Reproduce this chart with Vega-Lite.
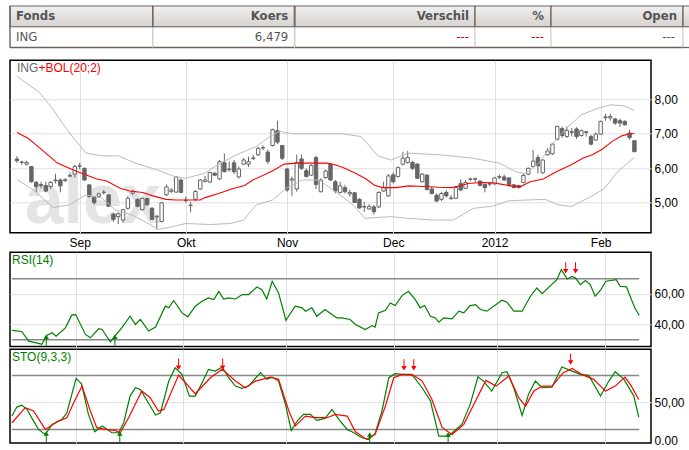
{
  "$schema": "https://vega.github.io/schema/vega-lite/v6.json",
  "padding": {"left": 8, "top": 5, "right": 0, "bottom": 0},
  "background": "#ffffff",
  "config": {
    "view": {"stroke": null},
    "text": {"font": "Liberation Sans"},
    "axis": {"labelFont": "Liberation Sans", "labelFontSize": 12, "labelColor": "#000000", "labelFlush": false, "domain": false, "ticks": false, "tickSize": 0, "gridColor": "#e0e0e0", "gridWidth": 1}
  },
  "datasets": {
    "table": [
      {"col": "Fonds", "value": "ING"},
      {"col": "Koers", "value": "6,479"},
      {"col": "Verschil", "value": "---"},
      {"col": "%", "value": "---"},
      {"col": "Open", "value": "---"},
      {"col": "", "value": ""}
    ],
    "candles": [
      {"i":0,"o":6.27,"h":6.35,"l":6.16,"c":6.22},{"i":1,"o":6.17,"h":6.22,"l":6.1,"c":6.18},{"i":2,"o":6.12,"h":6.22,"l":6.08,"c":6.17},
      {"i":3,"o":6.05,"h":6.06,"l":5.58,"c":5.61},{"i":4,"o":5.59,"h":5.63,"l":5.3,"c":5.47},{"i":5,"o":5.5,"h":5.61,"l":5.42,"c":5.53},
      {"i":6,"o":5.5,"h":5.61,"l":5.31,"c":5.34},{"i":7,"o":5.47,"h":5.63,"l":5.4,"c":5.59},{"i":8,"o":5.64,"h":5.84,"l":5.56,"c":5.66},
      {"i":9,"o":5.66,"h":5.71,"l":5.3,"c":5.49},{"i":10,"o":5.64,"h":5.72,"l":5.6,"c":5.67},{"i":11,"o":5.77,"h":5.85,"l":5.75,"c":5.79},
      {"i":12,"o":5.83,"h":6.1,"l":5.73,"c":6.05},{"i":13,"o":6.06,"h":6.15,"l":5.97,"c":6.07},{"i":14,"o":6.0,"h":6.02,"l":5.63,"c":5.66},
      {"i":15,"o":5.52,"h":5.53,"l":5.15,"c":5.18},{"i":16,"o":5.17,"h":5.2,"l":4.95,"c":5.0},{"i":17,"o":5.19,"h":5.3,"l":5.15,"c":5.26},
      {"i":18,"o":5.29,"h":5.37,"l":5.24,"c":5.31},{"i":19,"o":5.23,"h":5.25,"l":4.88,"c":4.9},{"i":20,"o":4.67,"h":4.72,"l":4.45,"c":4.52},
      {"i":21,"o":4.6,"h":4.72,"l":4.38,"c":4.68},{"i":22,"o":4.5,"h":4.82,"l":4.42,"c":4.8},{"i":23,"o":4.84,"h":5.2,"l":4.8,"c":5.13},
      {"i":24,"o":5.28,"h":5.38,"l":5.22,"c":5.33},{"i":25,"o":5.1,"h":5.12,"l":4.87,"c":4.9},{"i":26,"o":4.8,"h":5.15,"l":4.78,"c":5.13},
      {"i":27,"o":5.12,"h":5.15,"l":4.92,"c":4.94},{"i":28,"o":4.84,"h":4.88,"l":4.5,"c":4.52},{"i":29,"o":4.59,"h":4.65,"l":4.22,"c":4.61},
      {"i":30,"o":4.46,"h":5.03,"l":4.43,"c":5.0},{"i":31,"o":5.23,"h":5.53,"l":5.2,"c":5.46},{"i":32,"o":5.33,"h":5.42,"l":5.28,"c":5.37},
      {"i":33,"o":5.31,"h":5.78,"l":5.28,"c":5.75},{"i":34,"o":5.66,"h":5.7,"l":5.28,"c":5.3},{"i":35,"o":5.07,"h":5.18,"l":5.0,"c":5.08},
      {"i":36,"o":4.92,"h":5.03,"l":4.72,"c":4.93},{"i":37,"o":5.1,"h":5.37,"l":5.05,"c":5.33},{"i":38,"o":5.4,"h":5.69,"l":5.37,"c":5.66},
      {"i":39,"o":5.62,"h":5.78,"l":5.59,"c":5.66},{"i":40,"o":5.6,"h":5.9,"l":5.58,"c":5.88},{"i":41,"o":5.86,"h":5.88,"l":5.78,"c":5.8},
      {"i":42,"o":5.69,"h":6.24,"l":5.66,"c":6.19},{"i":43,"o":6.16,"h":6.43,"l":5.88,"c":5.9},{"i":44,"o":5.96,"h":6.2,"l":5.9,"c":5.98},
      {"i":45,"o":6.16,"h":6.24,"l":5.83,"c":5.9},{"i":46,"o":5.75,"h":6.05,"l":5.7,"c":5.98},{"i":47,"o":6.12,"h":6.3,"l":6.11,"c":6.24},
      {"i":48,"o":6.12,"h":6.34,"l":6.04,"c":6.19},{"i":49,"o":6.28,"h":6.39,"l":6.24,"c":6.3},{"i":50,"o":6.39,"h":6.62,"l":6.36,"c":6.58},
      {"i":51,"o":6.59,"h":6.67,"l":6.52,"c":6.6},{"i":52,"o":6.47,"h":6.54,"l":6.12,"c":6.2},{"i":53,"o":6.66,"h":7.15,"l":6.63,"c":7.12},
      {"i":54,"o":7.09,"h":7.38,"l":6.7,"c":6.76},{"i":55,"o":6.66,"h":6.68,"l":6.24,"c":6.29},{"i":56,"o":5.98,"h":6.0,"l":5.32,"c":5.37},
      {"i":57,"o":5.66,"h":5.76,"l":5.2,"c":5.69},{"i":58,"o":5.4,"h":6.4,"l":5.32,"c":6.17},{"i":59,"o":6.27,"h":6.4,"l":5.95,"c":6.0},
      {"i":60,"o":5.93,"h":6.0,"l":5.73,"c":5.76},{"i":61,"o":5.8,"h":6.12,"l":5.78,"c":6.08},{"i":62,"o":6.31,"h":6.36,"l":5.4,"c":5.53},
      {"i":63,"o":5.32,"h":5.71,"l":5.3,"c":5.66},{"i":64,"o":5.73,"h":5.96,"l":5.7,"c":5.92},{"i":65,"o":6.12,"h":6.15,"l":5.63,"c":5.66},
      {"i":66,"o":5.61,"h":5.66,"l":5.27,"c":5.34},{"i":67,"o":5.3,"h":5.61,"l":5.27,"c":5.49},{"i":68,"o":5.44,"h":5.52,"l":5.27,"c":5.32},
      {"i":69,"o":5.26,"h":5.38,"l":5.18,"c":5.3},{"i":70,"o":5.29,"h":5.3,"l":5.0,"c":5.01},{"i":71,"o":5.1,"h":5.13,"l":4.83,"c":4.85},
      {"i":72,"o":4.88,"h":5.03,"l":4.74,"c":4.89},{"i":73,"o":4.82,"h":4.96,"l":4.8,"c":4.89},{"i":74,"o":4.88,"h":4.93,"l":4.66,"c":4.74},
      {"i":75,"o":4.88,"h":5.33,"l":4.85,"c":5.3},{"i":76,"o":5.34,"h":5.61,"l":5.32,"c":5.44},{"i":77,"o":5.2,"h":5.83,"l":5.17,"c":5.78},
      {"i":78,"o":5.81,"h":5.88,"l":5.56,"c":5.61},{"i":79,"o":5.76,"h":6.05,"l":5.73,"c":6.02},{"i":80,"o":6.12,"h":6.48,"l":6.08,"c":6.29},
      {"i":81,"o":6.17,"h":6.5,"l":6.14,"c":6.31},{"i":82,"o":6.17,"h":6.21,"l":5.95,"c":6.0},{"i":83,"o":6.12,"h":6.15,"l":5.69,"c":5.71},
      {"i":84,"o":5.61,"h":5.86,"l":5.59,"c":5.83},{"i":85,"o":5.8,"h":5.83,"l":5.37,"c":5.38},{"i":86,"o":5.4,"h":5.47,"l":5.24,"c":5.27},
      {"i":87,"o":5.22,"h":5.27,"l":5.03,"c":5.05},{"i":88,"o":5.1,"h":5.32,"l":5.05,"c":5.27},{"i":89,"o":5.3,"h":5.36,"l":5.16,"c":5.2},
      {"i":90,"o":5.12,"h":5.22,"l":5.09,"c":5.14},{"i":91,"o":5.13,"h":5.47,"l":5.12,"c":5.44},{"i":92,"o":5.56,"h":5.68,"l":5.35,"c":5.37},
      {"i":93,"o":5.42,"h":5.66,"l":5.4,"c":5.59},{"i":94,"o":5.68,"h":5.73,"l":5.63,"c":5.69},{"i":95,"o":5.68,"h":5.73,"l":5.6,"c":5.7},
      {"i":96,"o":5.63,"h":5.66,"l":5.48,"c":5.5},{"i":97,"o":5.53,"h":5.56,"l":5.3,"c":5.44},{"i":98,"o":5.54,"h":5.6,"l":5.48,"c":5.56},
      {"i":99,"o":5.55,"h":5.75,"l":5.52,"c":5.72},{"i":100,"o":5.74,"h":5.82,"l":5.68,"c":5.76},{"i":101,"o":5.75,"h":5.82,"l":5.63,"c":5.66},
      {"i":102,"o":5.72,"h":5.75,"l":5.47,"c":5.5},{"i":103,"o":5.52,"h":5.54,"l":5.42,"c":5.44},{"i":104,"o":5.5,"h":5.52,"l":5.42,"c":5.44},
      {"i":105,"o":5.59,"h":5.86,"l":5.56,"c":5.79},{"i":106,"o":5.83,"h":6.02,"l":5.8,"c":6.0},{"i":107,"o":6.05,"h":6.53,"l":6.02,"c":6.21},
      {"i":108,"o":6.31,"h":6.39,"l":5.85,"c":6.07},{"i":109,"o":5.87,"h":6.26,"l":5.84,"c":6.24},{"i":110,"o":6.39,"h":6.58,"l":6.37,"c":6.5},
      {"i":111,"o":6.42,"h":6.73,"l":6.39,"c":6.7},{"i":112,"o":6.84,"h":7.24,"l":6.81,"c":7.21},{"i":113,"o":7.15,"h":7.21,"l":6.88,"c":6.95},
      {"i":114,"o":6.92,"h":7.21,"l":6.88,"c":7.1},{"i":115,"o":7.04,"h":7.17,"l":6.92,"c":7.06},{"i":116,"o":7.14,"h":7.19,"l":6.85,"c":6.92},
      {"i":117,"o":6.95,"h":7.12,"l":6.92,"c":7.09},{"i":118,"o":7.04,"h":7.09,"l":6.92,"c":7.06},{"i":119,"o":6.92,"h":6.97,"l":6.66,"c":6.7},
      {"i":120,"o":6.82,"h":7.04,"l":6.8,"c":6.99},{"i":121,"o":6.99,"h":7.38,"l":6.97,"c":7.36},{"i":122,"o":7.47,"h":7.58,"l":7.38,"c":7.49},
      {"i":123,"o":7.46,"h":7.58,"l":7.38,"c":7.5},{"i":124,"o":7.43,"h":7.46,"l":7.26,"c":7.31},{"i":125,"o":7.38,"h":7.44,"l":7.2,"c":7.31},
      {"i":126,"o":7.36,"h":7.39,"l":7.24,"c":7.26},{"i":127,"o":7.02,"h":7.12,"l":6.83,"c":6.89},{"i":128,"o":6.8,"h":6.8,"l":6.47,"c":6.48}
    ],
    "bb": [
      {"band":"mid","i":0,"v":7.04},{"band":"mid","i":2.3,"v":6.87},{"band":"mid","i":4.4,"v":6.63},{"band":"mid","i":6.4,"v":6.39},
      {"band":"mid","i":8.4,"v":6.15},{"band":"mid","i":10.5,"v":6.02},{"band":"mid","i":12.2,"v":5.92},{"band":"mid","i":14.2,"v":5.81},
      {"band":"mid","i":16.6,"v":5.69},{"band":"mid","i":18.6,"v":5.63},{"band":"mid","i":21.4,"v":5.42},{"band":"mid","i":23.4,"v":5.34},
      {"band":"mid","i":26.1,"v":5.3},{"band":"mid","i":28.2,"v":5.2},{"band":"mid","i":30.9,"v":5.1},{"band":"mid","i":32.9,"v":5.08},
      {"band":"mid","i":38,"v":5.08},{"band":"mid","i":39,"v":5.15},{"band":"mid","i":41.8,"v":5.27},{"band":"mid","i":44.5,"v":5.4},
      {"band":"mid","i":47.2,"v":5.5},{"band":"mid","i":48.9,"v":5.66},{"band":"mid","i":51.3,"v":5.81},{"band":"mid","i":53.3,"v":5.95},
      {"band":"mid","i":55.4,"v":6.12},{"band":"mid","i":58,"v":6.15},{"band":"mid","i":64.2,"v":6.15},{"band":"mid","i":65.9,"v":6.1},
      {"band":"mid","i":67.6,"v":6.02},{"band":"mid","i":70.3,"v":5.85},{"band":"mid","i":72.4,"v":5.69},{"band":"mid","i":74.1,"v":5.51},
      {"band":"mid","i":75.9,"v":5.44},{"band":"mid","i":78.6,"v":5.44},{"band":"mid","i":81.2,"v":5.49},{"band":"mid","i":84.6,"v":5.47},
      {"band":"mid","i":87.4,"v":5.45},{"band":"mid","i":90.1,"v":5.44},{"band":"mid","i":92.1,"v":5.5},{"band":"mid","i":93.5,"v":5.56},
      {"band":"mid","i":96.3,"v":5.59},{"band":"mid","i":98.6,"v":5.58},{"band":"mid","i":100.3,"v":5.54},{"band":"mid","i":102.3,"v":5.49},
      {"band":"mid","i":104.4,"v":5.47},{"band":"mid","i":106.4,"v":5.61},{"band":"mid","i":109.1,"v":5.69},{"band":"mid","i":111.8,"v":5.9},
      {"band":"mid","i":114.6,"v":6.08},{"band":"mid","i":117.3,"v":6.29},{"band":"mid","i":119.3,"v":6.39},{"band":"mid","i":121.4,"v":6.56},
      {"band":"mid","i":123.4,"v":6.78},{"band":"mid","i":125.4,"v":6.94},{"band":"mid","i":126.9,"v":7.0},{"band":"mid","i":128,"v":7.0},
      {"band":"upper","i":0,"v":8.67},{"band":"upper","i":4.8,"v":8.18},{"band":"upper","i":7.5,"v":7.7},{"band":"upper","i":10.9,"v":7.02},
      {"band":"upper","i":14.3,"v":6.44},{"band":"upper","i":17.7,"v":6.36},{"band":"upper","i":21.1,"v":6.36},{"band":"upper","i":24.5,"v":6.15},
      {"band":"upper","i":29.2,"v":5.95},{"band":"upper","i":32.7,"v":5.76},{"band":"upper","i":34.9,"v":5.71},{"band":"upper","i":38.8,"v":5.85},
      {"band":"upper","i":42.2,"v":6.15},{"band":"upper","i":45.5,"v":6.39},{"band":"upper","i":49.6,"v":6.63},{"band":"upper","i":52.4,"v":6.92},
      {"band":"upper","i":54.4,"v":7.07},{"band":"upper","i":57.1,"v":7.0},{"band":"upper","i":67.3,"v":7.0},{"band":"upper","i":71.4,"v":6.92},
      {"band":"upper","i":74.8,"v":6.36},{"band":"upper","i":77.6,"v":6.24},{"band":"upper","i":81,"v":6.44},{"band":"upper","i":87.8,"v":6.39},
      {"band":"upper","i":94.6,"v":6.29},{"band":"upper","i":100,"v":6.15},{"band":"upper","i":103.4,"v":5.9},{"band":"upper","i":105.4,"v":5.85},
      {"band":"upper","i":108.2,"v":6.15},{"band":"upper","i":110.9,"v":6.68},{"band":"upper","i":113.6,"v":7.12},{"band":"upper","i":117,"v":7.55},
      {"band":"upper","i":120.4,"v":7.74},{"band":"upper","i":123.1,"v":7.84},{"band":"upper","i":125.8,"v":7.81},{"band":"upper","i":128,"v":7.68},
      {"band":"lower","i":0,"v":5.68},{"band":"lower","i":3.4,"v":5.37},{"band":"lower","i":7.5,"v":4.86},{"band":"lower","i":10.9,"v":4.94},
      {"band":"lower","i":14.3,"v":5.23},{"band":"lower","i":17.7,"v":5.13},{"band":"lower","i":20.4,"v":4.79},{"band":"lower","i":23.8,"v":4.65},
      {"band":"lower","i":27.2,"v":4.4},{"band":"lower","i":29.3,"v":4.23},{"band":"lower","i":32,"v":4.3},{"band":"lower","i":35,"v":4.4},
      {"band":"lower","i":40.1,"v":4.37},{"band":"lower","i":44.2,"v":4.4},{"band":"lower","i":47,"v":4.5},{"band":"lower","i":49.6,"v":4.94},
      {"band":"lower","i":53,"v":5.08},{"band":"lower","i":55.8,"v":5.42},{"band":"lower","i":59.2,"v":5.66},{"band":"lower","i":62.6,"v":5.66},
      {"band":"lower","i":66,"v":5.32},{"band":"lower","i":68.4,"v":5.08},{"band":"lower","i":70,"v":4.89},{"band":"lower","i":72.1,"v":4.55},
      {"band":"lower","i":77.6,"v":4.6},{"band":"lower","i":81,"v":4.55},{"band":"lower","i":86.4,"v":4.5},{"band":"lower","i":90.5,"v":4.5},
      {"band":"lower","i":94.6,"v":4.84},{"band":"lower","i":98.6,"v":4.9},{"band":"lower","i":102,"v":5.06},{"band":"lower","i":109.5,"v":5.1},
      {"band":"lower","i":112.2,"v":4.94},{"band":"lower","i":114.9,"v":4.89},{"band":"lower","i":119,"v":5.18},{"band":"lower","i":121.8,"v":5.42},
      {"band":"lower","i":124.5,"v":5.9},{"band":"lower","i":128,"v":6.32}
    ],
    "rsi": [
      {"i":0,"v":36.1},{"i":2,"v":35.4},{"i":3.4,"v":29.1},{"i":5.4,"v":27.6},{"i":6.1,"v":27},{"i":7.1,"v":32.8},{"i":8.2,"v":34.6},
      {"i":9,"v":32.4},{"i":10.9,"v":37.8},{"i":12.2,"v":46.1},{"i":13,"v":46.5},{"i":15,"v":33.5},{"i":16,"v":31.3},{"i":17.7,"v":37.2},
      {"i":18.4,"v":36.7},{"i":20.1,"v":28.5},{"i":21.1,"v":32.8},{"i":22.4,"v":37.8},{"i":24.1,"v":45.4},{"i":25.2,"v":40},{"i":26.2,"v":43.3},
      {"i":27.9,"v":35.7},{"i":29.3,"v":38.3},{"i":31.3,"v":52},{"i":32,"v":50.9},{"i":33,"v":55.7},{"i":34.7,"v":47.6},{"i":35.9,"v":45},
      {"i":37.4,"v":52},{"i":38.8,"v":55.2},{"i":40.1,"v":57.4},{"i":41.2,"v":56.3},{"i":42.2,"v":61.7},{"i":43.2,"v":56.7},{"i":44.2,"v":57.4},
      {"i":45.6,"v":56.7},{"i":47,"v":59.6},{"i":48.3,"v":59.6},{"i":50,"v":64.6},{"i":51,"v":62.8},{"i":52,"v":56.7},{"i":53.1,"v":68.3},
      {"i":54.4,"v":60.7},{"i":55.9,"v":42.8},{"i":57.8,"v":52},{"i":59.2,"v":50.9},{"i":59.9,"v":48.7},{"i":61.2,"v":50.9},{"i":62.2,"v":45.4},
      {"i":63.9,"v":49.8},{"i":65.3,"v":46.5},{"i":66.3,"v":44.3},{"i":67.3,"v":44.3},{"i":69,"v":43.3},{"i":70.1,"v":40},{"i":72.1,"v":36.7},
      {"i":73.5,"v":39.3},{"i":74.1,"v":38.3},{"i":74.8,"v":47.6},{"i":76.2,"v":49.3},{"i":77.2,"v":54.1},{"i":78.2,"v":52.4},{"i":79.6,"v":58.9},
      {"i":80.9,"v":61.7},{"i":82.3,"v":56.3},{"i":83.3,"v":50.9},{"i":84.2,"v":52.4},{"i":85.4,"v":45.4},{"i":86.4,"v":44.3},{"i":87.1,"v":41.5},
      {"i":88.1,"v":44.3},{"i":89.8,"v":43.7},{"i":91.2,"v":48.7},{"i":92.2,"v":47.6},{"i":93.5,"v":52.4},{"i":94.6,"v":53},{"i":95.6,"v":49.8},
      {"i":96.9,"v":48.7},{"i":100,"v":55.9},{"i":101,"v":54.6},{"i":102.4,"v":48.7},{"i":104.1,"v":48.7},{"i":105.8,"v":58.5},{"i":107.1,"v":63.9},
      {"i":108.2,"v":60.2},{"i":109.9,"v":65.4},{"i":111.2,"v":69.3},{"i":112.1,"v":75.9},{"i":113.3,"v":69.8},{"i":114.3,"v":71.5},{"i":115,"v":70.4},
      {"i":116,"v":66.1},{"i":117,"v":68.7},{"i":118,"v":66.1},{"i":119,"v":58.5},{"i":120.1,"v":62.4},{"i":121.2,"v":68.3},{"i":123.3,"v":69.3},
      {"i":124.1,"v":65},{"i":125.4,"v":64.6},{"i":126.4,"v":56.3},{"i":127.1,"v":50.9},{"i":128,"v":45.9}
    ],
    "sto": [
      {"line":"K","i":0,"v":34.8},{"line":"K","i":1,"v":44.8},{"line":"K","i":2,"v":47},{"line":"K","i":3.1,"v":42.2},{"line":"K","i":4.1,"v":32.2},
      {"line":"K","i":5.4,"v":20},{"line":"K","i":6.8,"v":14.4},{"line":"K","i":8.2,"v":25.6},{"line":"K","i":10.2,"v":31.1},{"line":"K","i":11.2,"v":38.5},
      {"line":"K","i":13.1,"v":76.7},{"line":"K","i":14.2,"v":70.7},{"line":"K","i":15.6,"v":36.7},{"line":"K","i":16.9,"v":17.4},{"line":"K","i":18.4,"v":23.7},
      {"line":"K","i":20.4,"v":16.3},{"line":"K","i":21.8,"v":16.3},{"line":"K","i":22.8,"v":27.4},{"line":"K","i":24.1,"v":57},{"line":"K","i":25.2,"v":66.3},
      {"line":"K","i":26.2,"v":64.4},{"line":"K","i":27.6,"v":51.5},{"line":"K","i":29.3,"v":35.9},{"line":"K","i":30.3,"v":38.5},{"line":"K","i":32,"v":73.7},
      {"line":"K","i":33.3,"v":88.5},{"line":"K","i":34.7,"v":81.1},{"line":"K","i":36.2,"v":57},{"line":"K","i":37.4,"v":57},{"line":"K","i":38.8,"v":71.9},
      {"line":"K","i":40.1,"v":86.7},{"line":"K","i":41.5,"v":84.8},{"line":"K","i":42.9,"v":89.3},{"line":"K","i":44.2,"v":77.4},{"line":"K","i":45.6,"v":68.1},
      {"line":"K","i":46.9,"v":65.6},{"line":"K","i":48.3,"v":68.1},{"line":"K","i":50.7,"v":83},{"line":"K","i":52,"v":75.6},{"line":"K","i":53.1,"v":78.1},
      {"line":"K","i":54.4,"v":73.7},{"line":"K","i":55.8,"v":47.8},{"line":"K","i":57,"v":18.9},{"line":"K","i":58.2,"v":29.3},{"line":"K","i":59.5,"v":36.7},
      {"line":"K","i":60.9,"v":36.7},{"line":"K","i":62.2,"v":30},{"line":"K","i":63.9,"v":32.2},{"line":"K","i":65.3,"v":42.2},{"line":"K","i":66.7,"v":31.1},
      {"line":"K","i":68.4,"v":20},{"line":"K","i":69.4,"v":17.4},{"line":"K","i":71.4,"v":10.7},{"line":"K","i":72.8,"v":8.9},{"line":"K","i":74.1,"v":15.2},
      {"line":"K","i":75.5,"v":40.4},{"line":"K","i":76.9,"v":77.4},{"line":"K","i":78.2,"v":81.9},{"line":"K","i":79.6,"v":81.1},{"line":"K","i":81.6,"v":81.1},
      {"line":"K","i":83.7,"v":66.3},{"line":"K","i":85.4,"v":51.5},{"line":"K","i":87.1,"v":12.6},{"line":"K","i":89.1,"v":12.6},{"line":"K","i":91.8,"v":25.6},
      {"line":"K","i":93.5,"v":47.8},{"line":"K","i":95.1,"v":78.5},{"line":"K","i":96.2,"v":73.7},{"line":"K","i":97.9,"v":62.6},{"line":"K","i":100,"v":83},
      {"line":"K","i":101,"v":84.1},{"line":"K","i":102.4,"v":66.3},{"line":"K","i":104.1,"v":35.6},{"line":"K","i":105.4,"v":58.9},{"line":"K","i":106.8,"v":73.7},
      {"line":"K","i":108.2,"v":66.3},{"line":"K","i":110.2,"v":67},{"line":"K","i":112.2,"v":89.3},{"line":"K","i":114.3,"v":84.8},{"line":"K","i":116,"v":81.1},
      {"line":"K","i":117.7,"v":80},{"line":"K","i":120.1,"v":57},{"line":"K","i":121.8,"v":73.7},{"line":"K","i":123.1,"v":84.1},{"line":"K","i":124.9,"v":75.6},
      {"line":"K","i":126.9,"v":57},{"line":"K","i":127.9,"v":33.7},
      {"line":"D","i":0,"v":27.4},{"line":"D","i":2.7,"v":44.1},{"line":"D","i":4.4,"v":40.4},{"line":"D","i":6.8,"v":20},{"line":"D","i":9.2,"v":28.5},
      {"line":"D","i":11.2,"v":33},{"line":"D","i":12.6,"v":49.6},{"line":"D","i":14.3,"v":68.1},{"line":"D","i":16,"v":40.4},{"line":"D","i":17.3,"v":21.9},
      {"line":"D","i":19,"v":20},{"line":"D","i":21.1,"v":18.9},{"line":"D","i":22.1,"v":16.3},{"line":"D","i":23.8,"v":33},{"line":"D","i":26.5,"v":62.6},
      {"line":"D","i":28.2,"v":55.2},{"line":"D","i":29.9,"v":40.4},{"line":"D","i":31,"v":42.2},{"line":"D","i":34,"v":80.4},{"line":"D","i":35.7,"v":70},
      {"line":"D","i":37.4,"v":59.6},{"line":"D","i":40.5,"v":77.4},{"line":"D","i":42.9,"v":86.7},{"line":"D","i":45.6,"v":73.7},{"line":"D","i":47.6,"v":66.3},
      {"line":"D","i":49.7,"v":73.7},{"line":"D","i":52.7,"v":78.1},{"line":"D","i":54.4,"v":75.6},{"line":"D","i":56.5,"v":40.4},{"line":"D","i":57.8,"v":23.7},
      {"line":"D","i":59.9,"v":34.8},{"line":"D","i":61.9,"v":33},{"line":"D","i":64.3,"v":33},{"line":"D","i":66,"v":36.7},{"line":"D","i":68.4,"v":34.8},
      {"line":"D","i":70.1,"v":17.4},{"line":"D","i":72.4,"v":8.9},{"line":"D","i":74.1,"v":14.4},{"line":"D","i":76.2,"v":45.9},{"line":"D","i":77.9,"v":77.4},
      {"line":"D","i":79.6,"v":81.1},{"line":"D","i":81.9,"v":80.4},{"line":"D","i":83.7,"v":73.7},{"line":"D","i":85.7,"v":53.3},{"line":"D","i":87.8,"v":21.9},
      {"line":"D","i":89.8,"v":14.4},{"line":"D","i":92.2,"v":25.6},{"line":"D","i":94.6,"v":51.5},{"line":"D","i":96.7,"v":74.4},{"line":"D","i":98.8,"v":68.1},
      {"line":"D","i":101.4,"v":79.3},{"line":"D","i":103.4,"v":55.2},{"line":"D","i":104.8,"v":45.9},{"line":"D","i":106.5,"v":62.6},{"line":"D","i":108.2,"v":68.1},
      {"line":"D","i":110.2,"v":68.1},{"line":"D","i":112.5,"v":83},{"line":"D","i":114.3,"v":87.8},{"line":"D","i":116.3,"v":81.1},{"line":"D","i":118.7,"v":75.6},
      {"line":"D","i":121.1,"v":62.6},{"line":"D","i":123.1,"v":68.1},{"line":"D","i":125.1,"v":78.1},{"line":"D","i":126.4,"v":68.1},{"line":"D","i":127.9,"v":53.3}
    ],
    "signals": [
      {"panel":"rsi","dir":"up","i":7,"v":33.5},{"panel":"rsi","dir":"up","i":21,"v":33.5},
      {"panel":"rsi","dir":"down","i":113,"v":73.3},{"panel":"rsi","dir":"down","i":115,"v":73.3},
      {"panel":"sto","dir":"down","i":34,"v":86},{"panel":"sto","dir":"down","i":43,"v":86},
      {"panel":"sto","dir":"down","i":80,"v":85.3},{"panel":"sto","dir":"down","i":82,"v":85.3},
      {"panel":"sto","dir":"down","i":114,"v":91.7},
      {"panel":"sto","dir":"up","i":7,"v":18},{"panel":"sto","dir":"up","i":22,"v":18},
      {"panel":"sto","dir":"up","i":73,"v":16.9},{"panel":"sto","dir":"up","i":89,"v":16.9}
    ]
  },
  "spacing": 1.2,
  "vconcat": [
    {
      "spacing": 10.3,
      "vconcat": [
        {
          "spacing": 0,
          "bounds": "flush",
          "hconcat": [
            {
              "width": 142.7, "height": 41.5,
              "data": {"name": "table"},
              "transform": [{"filter": "datum.col == 'Fonds'"}],
              "layer": [
                {"mark": {"type": "rect", "fill": "#ffffff", "stroke": "#cccccc", "strokeWidth": 1}, "encoding": {"y": {"datum": 0, "type": "quantitative", "scale": {"domain": [0, 2], "nice": false, "zero": false}, "axis": null}, "y2": {"datum": 1}}},
                {"mark": {"type": "rect", "fill": {"gradient": "linear", "x1": 0, "y1": 0, "x2": 0, "y2": 1, "stops": [{"offset": 0, "color": "#f1f0ef"}, {"offset": 1, "color": "#d6d3d0"}]}, "stroke": "#6e625a", "strokeWidth": 1.2}, "encoding": {"y": {"datum": 1, "type": "quantitative", "scale": {"domain": [0, 2], "nice": false, "zero": false}, "axis": null}, "y2": {"datum": 2}}},
                {"mark": {"type": "rule", "color": "#6e625a", "strokeWidth": 1.3}, "encoding": {"y": {"datum": 0, "type": "quantitative", "scale": {"domain": [0, 2], "nice": false, "zero": false}, "axis": null}}},
                {"mark": {"type": "rule", "color": "#6e625a", "strokeWidth": 1.3}, "encoding": {"x": {"datum": 0, "type": "quantitative", "scale": {"domain": [0, 1], "nice": false, "zero": false}, "axis": null}}},
                {"mark": {"type": "text", "align": "left", "dx": 6, "font": "Liberation Sans Narrow, Arial Narrow, DejaVu Sans Condensed, sans-serif", "fontWeight": "bold", "fontSize": 13, "color": "#555555"}, "encoding": {"x": {"datum": 0, "type": "quantitative", "scale": {"domain": [0, 1], "nice": false, "zero": false}, "axis": null}, "y": {"datum": 1.5, "type": "quantitative", "scale": {"domain": [0, 2], "nice": false, "zero": false}, "axis": null}, "text": {"field": "col"}}},
                {"mark": {"type": "text", "align": "left", "dx": 6, "font": "Liberation Sans Narrow, Arial Narrow, DejaVu Sans Condensed, sans-serif", "fontSize": 13, "color": "#555555"}, "encoding": {"x": {"datum": 0, "type": "quantitative", "scale": {"domain": [0, 1], "nice": false, "zero": false}, "axis": null}, "y": {"datum": 0.5, "type": "quantitative", "scale": {"domain": [0, 2], "nice": false, "zero": false}, "axis": null}, "text": {"field": "value"}}}
              ]
            },
            {
              "width": 141.3, "height": 41.5,
              "data": {"name": "table"},
              "transform": [{"filter": "datum.col == 'Koers'"}],
              "layer": [
                {"mark": {"type": "rect", "fill": "#ffffff", "stroke": "#cccccc", "strokeWidth": 1}, "encoding": {"y": {"datum": 0, "type": "quantitative", "scale": {"domain": [0, 2], "nice": false, "zero": false}, "axis": null}, "y2": {"datum": 1}}},
                {"mark": {"type": "rect", "fill": {"gradient": "linear", "x1": 0, "y1": 0, "x2": 0, "y2": 1, "stops": [{"offset": 0, "color": "#f1f0ef"}, {"offset": 1, "color": "#d6d3d0"}]}, "stroke": "#6e625a", "strokeWidth": 1.2}, "encoding": {"y": {"datum": 1, "type": "quantitative", "scale": {"domain": [0, 2], "nice": false, "zero": false}, "axis": null}, "y2": {"datum": 2}}},
                {"mark": {"type": "rule", "color": "#6e625a", "strokeWidth": 1.3}, "encoding": {"y": {"datum": 0, "type": "quantitative", "scale": {"domain": [0, 2], "nice": false, "zero": false}, "axis": null}}},
                {"mark": {"type": "text", "align": "right", "dx": -6, "font": "Liberation Sans Narrow, Arial Narrow, DejaVu Sans Condensed, sans-serif", "fontWeight": "bold", "fontSize": 13, "color": "#555555"}, "encoding": {"x": {"datum": 1, "type": "quantitative", "scale": {"domain": [0, 1], "nice": false, "zero": false}, "axis": null}, "y": {"datum": 1.5, "type": "quantitative", "scale": {"domain": [0, 2], "nice": false, "zero": false}, "axis": null}, "text": {"field": "col"}}},
                {"mark": {"type": "text", "align": "right", "dx": -6, "font": "Liberation Sans Narrow, Arial Narrow, DejaVu Sans Condensed, sans-serif", "fontSize": 13, "color": "#555555"}, "encoding": {"x": {"datum": 1, "type": "quantitative", "scale": {"domain": [0, 1], "nice": false, "zero": false}, "axis": null}, "y": {"datum": 0.5, "type": "quantitative", "scale": {"domain": [0, 2], "nice": false, "zero": false}, "axis": null}, "text": {"field": "value"}}}
              ]
            },
            {
              "width": 180, "height": 41.5,
              "data": {"name": "table"},
              "transform": [{"filter": "datum.col == 'Verschil'"}],
              "layer": [
                {"mark": {"type": "rect", "fill": "#ffffff", "stroke": "#cccccc", "strokeWidth": 1}, "encoding": {"y": {"datum": 0, "type": "quantitative", "scale": {"domain": [0, 2], "nice": false, "zero": false}, "axis": null}, "y2": {"datum": 1}}},
                {"mark": {"type": "rect", "fill": {"gradient": "linear", "x1": 0, "y1": 0, "x2": 0, "y2": 1, "stops": [{"offset": 0, "color": "#f1f0ef"}, {"offset": 1, "color": "#d6d3d0"}]}, "stroke": "#6e625a", "strokeWidth": 1.2}, "encoding": {"y": {"datum": 1, "type": "quantitative", "scale": {"domain": [0, 2], "nice": false, "zero": false}, "axis": null}, "y2": {"datum": 2}}},
                {"mark": {"type": "rule", "color": "#6e625a", "strokeWidth": 1.3}, "encoding": {"y": {"datum": 0, "type": "quantitative", "scale": {"domain": [0, 2], "nice": false, "zero": false}, "axis": null}}},
                {"mark": {"type": "text", "align": "right", "dx": -6, "font": "Liberation Sans Narrow, Arial Narrow, DejaVu Sans Condensed, sans-serif", "fontWeight": "bold", "fontSize": 13, "color": "#555555"}, "encoding": {"x": {"datum": 1, "type": "quantitative", "scale": {"domain": [0, 1], "nice": false, "zero": false}, "axis": null}, "y": {"datum": 1.5, "type": "quantitative", "scale": {"domain": [0, 2], "nice": false, "zero": false}, "axis": null}, "text": {"field": "col"}}},
                {"mark": {"type": "text", "align": "right", "dx": -6, "font": "Liberation Sans Narrow, Arial Narrow, DejaVu Sans Condensed, sans-serif", "fontSize": 13, "color": "#e00000"}, "encoding": {"x": {"datum": 1, "type": "quantitative", "scale": {"domain": [0, 1], "nice": false, "zero": false}, "axis": null}, "y": {"datum": 0.5, "type": "quantitative", "scale": {"domain": [0, 2], "nice": false, "zero": false}, "axis": null}, "text": {"field": "value"}}}
              ]
            },
            {
              "width": 76, "height": 41.5,
              "data": {"name": "table"},
              "transform": [{"filter": "datum.col == '%'"}],
              "layer": [
                {"mark": {"type": "rect", "fill": "#ffffff", "stroke": "#cccccc", "strokeWidth": 1}, "encoding": {"y": {"datum": 0, "type": "quantitative", "scale": {"domain": [0, 2], "nice": false, "zero": false}, "axis": null}, "y2": {"datum": 1}}},
                {"mark": {"type": "rect", "fill": {"gradient": "linear", "x1": 0, "y1": 0, "x2": 0, "y2": 1, "stops": [{"offset": 0, "color": "#f1f0ef"}, {"offset": 1, "color": "#d6d3d0"}]}, "stroke": "#6e625a", "strokeWidth": 1.2}, "encoding": {"y": {"datum": 1, "type": "quantitative", "scale": {"domain": [0, 2], "nice": false, "zero": false}, "axis": null}, "y2": {"datum": 2}}},
                {"mark": {"type": "rule", "color": "#6e625a", "strokeWidth": 1.3}, "encoding": {"y": {"datum": 0, "type": "quantitative", "scale": {"domain": [0, 2], "nice": false, "zero": false}, "axis": null}}},
                {"mark": {"type": "text", "align": "right", "dx": -7, "font": "Liberation Sans Narrow, Arial Narrow, DejaVu Sans Condensed, sans-serif", "fontWeight": "bold", "fontSize": 13, "color": "#555555"}, "encoding": {"x": {"datum": 1, "type": "quantitative", "scale": {"domain": [0, 1], "nice": false, "zero": false}, "axis": null}, "y": {"datum": 1.5, "type": "quantitative", "scale": {"domain": [0, 2], "nice": false, "zero": false}, "axis": null}, "text": {"field": "col"}}},
                {"mark": {"type": "text", "align": "right", "dx": -7, "font": "Liberation Sans Narrow, Arial Narrow, DejaVu Sans Condensed, sans-serif", "fontSize": 13, "color": "#e00000"}, "encoding": {"x": {"datum": 1, "type": "quantitative", "scale": {"domain": [0, 1], "nice": false, "zero": false}, "axis": null}, "y": {"datum": 0.5, "type": "quantitative", "scale": {"domain": [0, 2], "nice": false, "zero": false}, "axis": null}, "text": {"field": "value"}}}
              ]
            },
            {
              "width": 132, "height": 41.5,
              "data": {"name": "table"},
              "transform": [{"filter": "datum.col == 'Open'"}],
              "layer": [
                {"mark": {"type": "rect", "fill": "#ffffff", "stroke": "#cccccc", "strokeWidth": 1}, "encoding": {"y": {"datum": 0, "type": "quantitative", "scale": {"domain": [0, 2], "nice": false, "zero": false}, "axis": null}, "y2": {"datum": 1}}},
                {"mark": {"type": "rect", "fill": {"gradient": "linear", "x1": 0, "y1": 0, "x2": 0, "y2": 1, "stops": [{"offset": 0, "color": "#f1f0ef"}, {"offset": 1, "color": "#d6d3d0"}]}, "stroke": "#6e625a", "strokeWidth": 1.2}, "encoding": {"y": {"datum": 1, "type": "quantitative", "scale": {"domain": [0, 2], "nice": false, "zero": false}, "axis": null}, "y2": {"datum": 2}}},
                {"mark": {"type": "rule", "color": "#6e625a", "strokeWidth": 1.3}, "encoding": {"y": {"datum": 0, "type": "quantitative", "scale": {"domain": [0, 2], "nice": false, "zero": false}, "axis": null}}},
                {"mark": {"type": "text", "align": "right", "dx": -6, "font": "Liberation Sans Narrow, Arial Narrow, DejaVu Sans Condensed, sans-serif", "fontWeight": "bold", "fontSize": 13, "color": "#555555"}, "encoding": {"x": {"datum": 1, "type": "quantitative", "scale": {"domain": [0, 1], "nice": false, "zero": false}, "axis": null}, "y": {"datum": 1.5, "type": "quantitative", "scale": {"domain": [0, 2], "nice": false, "zero": false}, "axis": null}, "text": {"field": "col"}}},
                {"mark": {"type": "text", "align": "right", "dx": -8, "font": "Liberation Sans Narrow, Arial Narrow, DejaVu Sans Condensed, sans-serif", "fontSize": 13, "color": "#555555"}, "encoding": {"x": {"datum": 1, "type": "quantitative", "scale": {"domain": [0, 1], "nice": false, "zero": false}, "axis": null}, "y": {"datum": 0.5, "type": "quantitative", "scale": {"domain": [0, 2], "nice": false, "zero": false}, "axis": null}, "text": {"field": "value"}}}
              ]
            },
            {
              "width": 9, "height": 41.5,
              "data": {"name": "table"},
              "transform": [{"filter": "datum.col == ''"}],
              "layer": [
                {"mark": {"type": "rect", "fill": "#ffffff", "stroke": "#cccccc", "strokeWidth": 1}, "encoding": {"y": {"datum": 0, "type": "quantitative", "scale": {"domain": [0, 2], "nice": false, "zero": false}, "axis": null}, "y2": {"datum": 1}}},
                {"mark": {"type": "rect", "fill": {"gradient": "linear", "x1": 0, "y1": 0, "x2": 0, "y2": 1, "stops": [{"offset": 0, "color": "#f1f0ef"}, {"offset": 1, "color": "#d6d3d0"}]}, "stroke": "#6e625a", "strokeWidth": 1.2}, "encoding": {"y": {"datum": 1, "type": "quantitative", "scale": {"domain": [0, 2], "nice": false, "zero": false}, "axis": null}, "y2": {"datum": 2}}},
                {"mark": {"type": "rule", "color": "#6e625a", "strokeWidth": 1.3}, "encoding": {"y": {"datum": 0, "type": "quantitative", "scale": {"domain": [0, 2], "nice": false, "zero": false}, "axis": null}}}
              ]
            }
          ]
        },
        {
          "width": 641,
          "height": 172.5,
          "view": {"stroke": "#000000", "strokeWidth": 1.5},
          "layer": [
            {
              "data": {"values": [{"t": "alex"}]},
              "mark": {"type": "text", "font": "Liberation Sans", "fontWeight": "bold", "fontSize": 70, "color": "#e4e4e4", "align": "left", "baseline": "alphabetic"},
              "encoding": {
                "x": {"datum": 1.6, "type": "quantitative", "scale": {"domain": [-0.4, 130.4], "nice": false, "zero": false},
                  "axis": {"orient": "bottom", "values": [13, 35, 56, 78, 99, 121], "labelExpr": "datum.value == 13 ? 'Sep' : datum.value == 35 ? 'Okt' : datum.value == 56 ? 'Nov' : datum.value == 78 ? 'Dec' : datum.value == 99 ? '2012' : 'Feb'", "grid": true, "labelPadding": 5, "title": null}},
                "y": {"datum": 4.42, "type": "quantitative", "scale": {"domain": [4.13, 9.13], "nice": false, "zero": false},
                  "axis": {"orient": "right", "values": [5, 6, 7, 8], "labelExpr": "replace(format(datum.value, '.2f'), '.', ',')", "grid": true, "labelPadding": 3, "title": null}},
                "text": {"field": "t"}
              }
            },
            {
              "data": {"name": "candles"},
              "mark": {"type": "rule", "color": "#666666", "strokeWidth": 1},
              "encoding": {
                "x": {"field": "i", "type": "quantitative", "scale": {"domain": [-0.4, 130.4], "nice": false, "zero": false}, "title": null},
                "y": {"field": "l", "type": "quantitative", "scale": {"domain": [4.13, 9.13], "nice": false, "zero": false}, "title": null},
                "y2": {"field": "h"}
              }
            },
            {
              "data": {"name": "candles"},
              "mark": {"type": "bar", "width": 3.4, "stroke": "#666666", "strokeWidth": 1},
              "encoding": {
                "x": {"field": "i", "type": "quantitative", "scale": {"domain": [-0.4, 130.4], "nice": false, "zero": false}, "title": null},
                "y": {"field": "o", "type": "quantitative", "scale": {"domain": [4.13, 9.13], "nice": false, "zero": false}, "title": null},
                "y2": {"field": "c"},
                "fill": {"condition": {"test": "datum.c < datum.o", "value": "#666666"}, "value": "#ffffff"}
              }
            },
            {
              "data": {"name": "bb"},
              "transform": [{"filter": "datum.band != 'mid'"}],
              "mark": {"type": "line", "strokeWidth": 1, "color": "#bbbbbb"},
              "encoding": {
                "x": {"field": "i", "type": "quantitative", "scale": {"domain": [-0.4, 130.4], "nice": false, "zero": false}, "title": null},
                "y": {"field": "v", "type": "quantitative", "scale": {"domain": [4.13, 9.13], "nice": false, "zero": false}, "title": null},
                "detail": {"field": "band", "type": "nominal"}
              }
            },
            {
              "data": {"name": "bb"},
              "transform": [{"filter": "datum.band == 'mid'"}],
              "mark": {"type": "line", "strokeWidth": 1.1, "color": "#ff0000"},
              "encoding": {
                "x": {"field": "i", "type": "quantitative", "scale": {"domain": [-0.4, 130.4], "nice": false, "zero": false}, "title": null},
                "y": {"field": "v", "type": "quantitative", "scale": {"domain": [4.13, 9.13], "nice": false, "zero": false}, "title": null}
              }
            },
            {
              "data": {"values": [{"t": "ING"}]},
              "mark": {"type": "text", "fontSize": 12, "color": "#666666", "align": "left", "baseline": "top", "dx": 2, "dy": 3},
              "encoding": {
                "x": {"datum": -0.4, "type": "quantitative", "scale": {"domain": [-0.4, 130.4], "nice": false, "zero": false}},
                "y": {"datum": 9.13, "type": "quantitative", "scale": {"domain": [4.13, 9.13], "nice": false, "zero": false}},
                "text": {"field": "t"}
              }
            },
            {
              "data": {"values": [{"t": "+BOL(20;2)"}]},
              "mark": {"type": "text", "fontSize": 12, "color": "#ff0000", "align": "left", "baseline": "top", "dx": 23.5, "dy": 3},
              "encoding": {
                "x": {"datum": -0.4, "type": "quantitative", "scale": {"domain": [-0.4, 130.4], "nice": false, "zero": false}},
                "y": {"datum": 9.13, "type": "quantitative", "scale": {"domain": [4.13, 9.13], "nice": false, "zero": false}},
                "text": {"field": "t"}
              }
            }
          ]
        }
      ]
    },
    {
      "spacing": 0,
      "vconcat": [
        {
          "width": 641,
          "height": 94.3,
          "view": {"stroke": "#000000", "strokeWidth": 1.5},
          "layer": [
            {
              "data": {"values": [{"lvl": 30}, {"lvl": 70}]},
              "mark": {"type": "rule", "color": "#888888", "strokeWidth": 1.5},
              "encoding": {
                "x": {"datum": 0, "type": "quantitative", "scale": {"domain": [-0.4, 130.4], "nice": false, "zero": false},
                  "axis": {"values": [13, 35, 56, 78, 99, 121], "labels": false, "grid": true, "title": null}},
                "x2": {"datum": 128},
                "y": {"field": "lvl", "type": "quantitative", "scale": {"domain": [25.6, 87.3], "nice": false, "zero": false},
                  "axis": {"orient": "right", "values": [40, 60], "labelExpr": "replace(format(datum.value, '.2f'), '.', ',')", "grid": true, "labelPadding": 3, "title": null}}
              }
            },
            {
              "data": {"name": "rsi"},
              "mark": {"type": "line", "color": "#008000", "strokeWidth": 1.2},
              "encoding": {
                "x": {"field": "i", "type": "quantitative", "scale": {"domain": [-0.4, 130.4], "nice": false, "zero": false}, "title": null},
                "y": {"field": "v", "type": "quantitative", "scale": {"domain": [25.6, 87.3], "nice": false, "zero": false}, "title": null}
              }
            },
            {
              "data": {"name": "signals"},
              "transform": [{"filter": "datum.panel == 'rsi' && datum.dir == 'down'"}],
              "mark": {"type": "point", "filled": true, "size": 36, "opacity": 1, "strokeWidth": 0, "color": "#ff0000", "shape": "M-0.17,-3.8L0.17,-3.8L0.17,-1.5L0.9,-1.5L0,0L-0.9,-1.5L-0.17,-1.5Z"},
              "encoding": {
                "x": {"field": "i", "type": "quantitative", "scale": {"domain": [-0.4, 130.4], "nice": false, "zero": false}, "title": null},
                "y": {"field": "v", "type": "quantitative", "scale": {"domain": [25.6, 87.3], "nice": false, "zero": false}, "title": null}
              }
            },
            {
              "data": {"name": "signals"},
              "transform": [{"filter": "datum.panel == 'rsi' && datum.dir == 'up'"}],
              "mark": {"type": "point", "filled": true, "size": 36, "opacity": 1, "strokeWidth": 0, "color": "#008000", "shape": "M-0.17,3.8L0.17,3.8L0.17,1.5L0.9,1.5L0,0L-0.9,1.5L-0.17,1.5Z"},
              "encoding": {
                "x": {"field": "i", "type": "quantitative", "scale": {"domain": [-0.4, 130.4], "nice": false, "zero": false}, "title": null},
                "y": {"field": "v", "type": "quantitative", "scale": {"domain": [25.6, 87.3], "nice": false, "zero": false}, "title": null}
              }
            },
            {
              "data": {"values": [{"t": "RSI(14)"}]},
              "mark": {"type": "text", "fontSize": 12, "color": "#008000", "align": "left", "baseline": "top", "dx": 2, "dy": 3},
              "encoding": {
                "x": {"datum": -0.4, "type": "quantitative", "scale": {"domain": [-0.4, 130.4], "nice": false, "zero": false}},
                "y": {"datum": 87.3, "type": "quantitative", "scale": {"domain": [25.6, 87.3], "nice": false, "zero": false}},
                "text": {"field": "t"}
              }
            }
          ]
        },
        {
          "width": 641,
          "height": 93.7,
          "view": {"stroke": "#000000", "strokeWidth": 1.5},
          "layer": [
            {
              "data": {"values": [{"lvl": 20}, {"lvl": 80}]},
              "mark": {"type": "rule", "color": "#888888", "strokeWidth": 1.5},
              "encoding": {
                "x": {"datum": 0, "type": "quantitative", "scale": {"domain": [-0.4, 130.4], "nice": false, "zero": false},
                  "axis": {"values": [13, 35, 56, 78, 99, 121], "labels": false, "grid": true, "title": null}},
                "x2": {"datum": 128},
                "y": {"field": "lvl", "type": "quantitative", "scale": {"domain": [5, 109.1], "nice": false, "zero": false},
                  "axis": {"orient": "right", "values": [7.2, 50], "labelExpr": "datum.value == 50 ? '50,00' : '0.00'", "grid": true, "gridOpacity": {"condition": {"test": "datum.value < 10", "value": 0}, "value": 1}, "labelPadding": 3, "title": null}}
              }
            },
            {
              "data": {"name": "sto"},
              "transform": [{"filter": "datum.line == 'K'"}],
              "mark": {"type": "line", "strokeWidth": 1.2, "color": "#008000"},
              "encoding": {
                "x": {"field": "i", "type": "quantitative", "scale": {"domain": [-0.4, 130.4], "nice": false, "zero": false}, "title": null},
                "y": {"field": "v", "type": "quantitative", "scale": {"domain": [5, 109.1], "nice": false, "zero": false}, "title": null}
              }
            },
            {
              "data": {"name": "sto"},
              "transform": [{"filter": "datum.line == 'D'"}],
              "mark": {"type": "line", "strokeWidth": 1.2, "color": "#ff0000"},
              "encoding": {
                "x": {"field": "i", "type": "quantitative", "scale": {"domain": [-0.4, 130.4], "nice": false, "zero": false}, "title": null},
                "y": {"field": "v", "type": "quantitative", "scale": {"domain": [5, 109.1], "nice": false, "zero": false}, "title": null}
              }
            },
            {
              "data": {"name": "signals"},
              "transform": [{"filter": "datum.panel == 'sto' && datum.dir == 'down'"}],
              "mark": {"type": "point", "filled": true, "size": 36, "opacity": 1, "strokeWidth": 0, "color": "#ff0000", "shape": "M-0.17,-3.8L0.17,-3.8L0.17,-1.5L0.9,-1.5L0,0L-0.9,-1.5L-0.17,-1.5Z"},
              "encoding": {
                "x": {"field": "i", "type": "quantitative", "scale": {"domain": [-0.4, 130.4], "nice": false, "zero": false}, "title": null},
                "y": {"field": "v", "type": "quantitative", "scale": {"domain": [5, 109.1], "nice": false, "zero": false}, "title": null}
              }
            },
            {
              "data": {"name": "signals"},
              "transform": [{"filter": "datum.panel == 'sto' && datum.dir == 'up'"}],
              "mark": {"type": "point", "filled": true, "size": 36, "opacity": 1, "strokeWidth": 0, "color": "#008000", "shape": "M-0.17,3.8L0.17,3.8L0.17,1.5L0.9,1.5L0,0L-0.9,1.5L-0.17,1.5Z"},
              "encoding": {
                "x": {"field": "i", "type": "quantitative", "scale": {"domain": [-0.4, 130.4], "nice": false, "zero": false}, "title": null},
                "y": {"field": "v", "type": "quantitative", "scale": {"domain": [5, 109.1], "nice": false, "zero": false}, "title": null}
              }
            },
            {
              "data": {"values": [{"t": "STO(9,3,3)"}]},
              "mark": {"type": "text", "fontSize": 12, "color": "#008000", "align": "left", "baseline": "top", "dx": 2, "dy": 3},
              "encoding": {
                "x": {"datum": -0.4, "type": "quantitative", "scale": {"domain": [-0.4, 130.4], "nice": false, "zero": false}},
                "y": {"datum": 109.1, "type": "quantitative", "scale": {"domain": [5, 109.1], "nice": false, "zero": false}},
                "text": {"field": "t"}
              }
            }
          ]
        }
      ]
    }
  ]
}
